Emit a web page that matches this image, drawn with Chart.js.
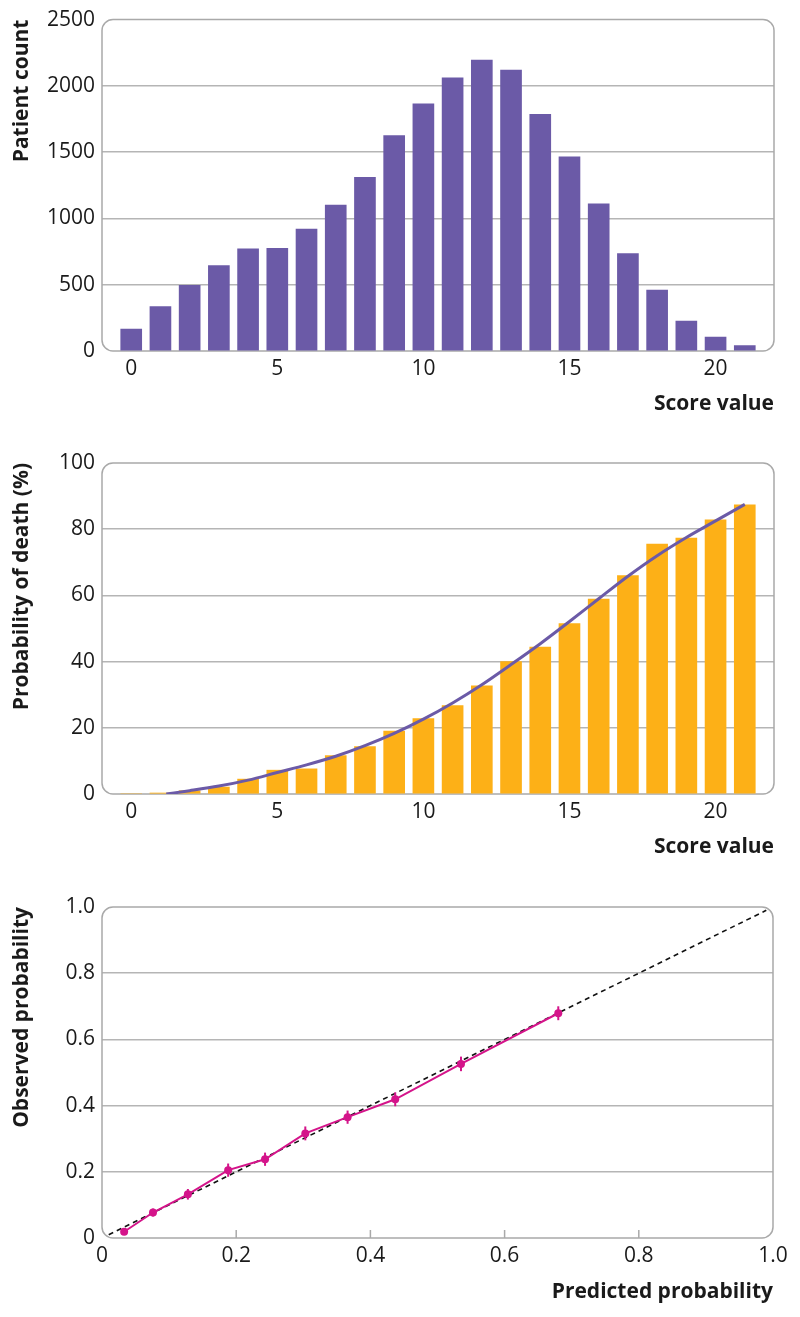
<!DOCTYPE html>
<html>
<head>
<meta charset="utf-8">
<script src="https://cdn.jsdelivr.net/npm/chart.js@4/dist/chart.umd.min.js"></script>
<style>
  body { margin: 0; background: #fff; width: 800px; height: 1317px; position: relative; overflow: hidden; }
  .box { position: absolute; left: 0; width: 800px; }
</style>
</head>
<body>
<div class="box" style="top:0"><canvas id="countChart" width="800" height="430"></canvas></div>
<div class="box" style="top:440px"><canvas id="deathChart" width="800" height="430"></canvas></div>
<div class="box" style="top:880px"><canvas id="calChart" width="800" height="437"></canvas></div>
<script>
// score distribution
const scores = [0, 1, 2, 3, 4, 5, 6, 7, 8, 9, 10, 11, 12, 13, 14, 15, 16, 17, 18, 19, 20, 21];
const patientCounts = [165, 335, 495, 645, 770, 775, 920, 1100, 1310, 1625, 1865, 2060, 2195, 2120, 1785, 1465, 1110, 735, 460, 225, 105, 40];

// observed mortality per score, plus fitted curve
const deathPct = [0, 0.3, 1, 2.1, 4.5, 7.2, 7.6, 11.6, 14.3, 19.0, 22.8, 26.7, 32.7, 40.0, 44.4, 51.5, 58.9, 66.0, 75.5, 77.3, 82.8, 87.4];
const fitScore = [1.2, 2, 3, 4, 5, 6, 7, 8, 9, 10, 11, 12, 13, 14, 15, 16, 17, 18, 19, 20, 21];
const fitPct = [0, 1.0, 2.4, 4.2, 6.5, 8.8, 11.4, 14.6, 18.3, 22.6, 27.5, 33.0, 39.1, 45.4, 52.1, 59.0, 65.8, 72.0, 77.5, 82.5, 87.5];

// calibration
const predicted = [0.033, 0.076, 0.128, 0.188, 0.243, 0.303, 0.366, 0.437, 0.535, 0.68];
const observed = [0.019, 0.077, 0.132, 0.205, 0.238, 0.316, 0.365, 0.419, 0.526, 0.679];
const obsLower = [0.016, 0.065, 0.116, 0.185, 0.218, 0.295, 0.345, 0.398, 0.504, 0.658];
const obsUpper = [0.022, 0.089, 0.148, 0.225, 0.258, 0.337, 0.385, 0.44, 0.548, 0.70];
const diagLine = [0.01, 0.99];

// tick labels
const scoreTicks = [0, 5, 10, 15, 20];
const countTicks = [0, 500, 1000, 1500, 2000, 2500];
const pctTicks = [0, 20, 40, 60, 80, 100];
const probTicks = [0, 0.2, 0.4, 0.6, 0.8, 1.0];

const PURPLE = '#6b5aa7';
const ORANGE = '#fdb017';
const PINK = '#d4148a';
const GRID = '#b5b5b5';

Chart.defaults.font.family = "'Open Sans', sans-serif";
Chart.defaults.font.size = 21;
Chart.defaults.color = '#1a1a1a';

const fmtInt = v => String(v);
const fmtProb = v => v === 0 ? '0' : v.toFixed(1);

function yAxis(title, ticks, fmt) {
  return {
    type: 'linear',
    min: ticks[0],
    max: ticks[ticks.length - 1],
    afterBuildTicks: ax => { ax.ticks = ticks.map(v => ({ value: v })); },
    afterFit: ax => { ax.width = 102; },
    grid: {
      color: c => (c.index === 0 || c.index === ticks.length - 1) ? 'rgba(0,0,0,0)' : GRID,
      lineWidth: 1.5,
      drawTicks: false
    },
    border: { display: false },
    ticks: { padding: 7, callback: v => fmt(v) },
    title: { display: true, text: title, align: 'end', font: { weight: 'bold' }, padding: { top: 9, bottom: 0 } }
  };
}

function xAxis(title, min, max, ticks, fmt, height, padBottom) {
  return {
    type: 'linear',
    min: min,
    max: max,
    offset: false,
    afterBuildTicks: ax => { ax.ticks = ticks.map(v => ({ value: v })); },
    afterFit: ax => { ax.height = height; },
    grid: { display: false, drawTicks: false, offset: false },
    border: { display: false },
    ticks: { padding: 5, maxRotation: 0, autoSkip: false, callback: v => fmt(v) },
    title: { display: true, text: title, align: 'end', font: { weight: 'bold' }, padding: { top: 0, bottom: padBottom } }
  };
}

// rounded frame round the plot area
const framePlugin = {
  id: 'frame',
  beforeDatasetsDraw(chart) {
    const { ctx, chartArea: a } = chart;
    ctx.save();
    ctx.strokeStyle = '#a9a9a9';
    ctx.lineWidth = 1.5;
    ctx.beginPath();
    ctx.roundRect(a.left, a.top, a.right - a.left, a.bottom - a.top, 11);
    ctx.stroke();
    ctx.restore();
  }
};

const basePlugins = {
  legend: { display: false },
  tooltip: { enabled: false }
};

new Chart(document.getElementById('countChart'), {
  type: 'bar',
  data: {
    datasets: [{
      data: scores.map((s, i) => ({ x: s, y: patientCounts[i] })),
      backgroundColor: PURPLE,
      barThickness: 21
    }]
  },
  options: {
    responsive: false,
    animation: false,
    layout: { padding: { top: 19, right: 26, left: 0, bottom: 0 } },
    plugins: basePlugins,
    scales: {
      x: xAxis('Score value', -1, 22, scoreTicks, fmtInt, 79, 13),
      y: yAxis('Patient count', countTicks, fmtInt)
    }
  },
  plugins: [framePlugin]
});

new Chart(document.getElementById('deathChart'), {
  type: 'bar',
  data: {
    datasets: [{
      type: 'line',
      order: 0,
      data: fitScore.map((s, i) => ({ x: s, y: fitPct[i] })),
      borderColor: PURPLE,
      borderWidth: 3,
      pointRadius: 0,
      cubicInterpolationMode: 'monotone'
    }, {
      type: 'bar',
      order: 1,
      data: scores.map((s, i) => ({ x: s, y: deathPct[i] })),
      backgroundColor: ORANGE,
      barThickness: 21
    }]
  },
  options: {
    responsive: false,
    animation: false,
    layout: { padding: { top: 23, right: 26, left: 0, bottom: 0 } },
    plugins: basePlugins,
    scales: {
      x: xAxis('Score value', -1, 22, scoreTicks, fmtInt, 76, 10),
      y: yAxis('Probability of death (%)', pctTicks, fmtInt)
    }
  },
  plugins: [framePlugin]
});

// error bars and inward x ticks for the calibration plot
const calPlugin = {
  id: 'calExtras',
  beforeDatasetsDraw(chart) {
    const { ctx, chartArea: a, scales: { x } } = chart;
    ctx.save();
    ctx.strokeStyle = '#a9a9a9';
    ctx.lineWidth = 1.5;
    probTicks.slice(1, -1).forEach(v => {
      const px = x.getPixelForValue(v);
      ctx.beginPath();
      ctx.moveTo(px, a.bottom);
      ctx.lineTo(px, a.bottom - 8);
      ctx.stroke();
    });
    ctx.restore();
  },
  afterDatasetsDraw(chart) {
    const { ctx, scales: { x, y } } = chart;
    ctx.save();
    ctx.strokeStyle = PINK;
    ctx.lineWidth = 2;
    predicted.forEach((p, i) => {
      const px = x.getPixelForValue(p);
      ctx.beginPath();
      ctx.moveTo(px, y.getPixelForValue(obsLower[i]));
      ctx.lineTo(px, y.getPixelForValue(obsUpper[i]));
      ctx.stroke();
    });
    ctx.restore();
  }
};

new Chart(document.getElementById('calChart'), {
  type: 'line',
  data: {
    datasets: [{
      order: 0,
      data: predicted.map((p, i) => ({ x: p, y: observed[i] })),
      borderColor: PINK,
      backgroundColor: PINK,
      borderWidth: 2,
      pointRadius: 4,
      pointBorderWidth: 0,
      tension: 0
    }, {
      order: 1,
      data: diagLine.map(v => ({ x: v, y: v })),
      borderColor: '#111',
      borderWidth: 1.6,
      borderDash: [5, 4],
      pointRadius: 0
    }]
  },
  options: {
    responsive: false,
    animation: false,
    layout: { padding: { top: 27, right: 27, left: 0, bottom: 0 } },
    plugins: basePlugins,
    scales: {
      x: xAxis('Predicted probability', 0, 1, probTicks, fmtProb, 79, 12),
      y: yAxis('Observed probability', probTicks, fmtProb)
    }
  },
  plugins: [framePlugin, calPlugin]
});
</script>
</body>
</html>
